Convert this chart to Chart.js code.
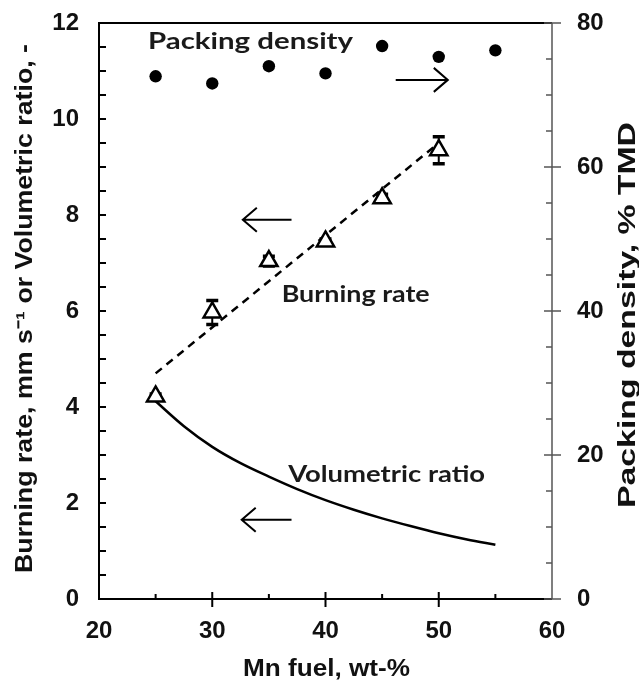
<!DOCTYPE html>
<html>
<head>
<meta charset="utf-8">
<script src="https://cdn.jsdelivr.net/npm/chart.js@4.4.1/dist/chart.umd.min.js"></script>
<style>
  html, body { margin: 0; padding: 0; background: #fff; }
  #wrap { width: 639px; height: 680px; }
</style>
</head>
<body>
<div id="wrap"><canvas id="chart" width="639" height="680"></canvas></div>
<script>
// Data
const packingFuel = [25, 30, 35, 40, 45, 50, 55];
const packingDensity = [72.6, 71.6, 74.0, 73.0, 76.8, 75.3, 76.2];   // % TMD, right axis

const burnFuel = [25, 30, 35, 40, 45, 50];
const burningRate = [4.22, 5.97, 7.04, 7.45, 8.35, 9.35];            // mm/s
const burningErr = [0.05, 0.25, 0.1, 0.05, 0.08, 0.28];

const trendFuel = [25, 50];
const trendRate = [4.7, 9.5];

const ratioFuel = [25, 27.5, 30, 32.5, 35, 37.5, 40, 42.5, 45, 47.5, 50, 52.5, 55];
const volumetricRatio = [4.12, 3.6, 3.17, 2.83, 2.55, 2.29, 2.06, 1.86, 1.68, 1.52, 1.37, 1.24, 1.13];

const xTicks = [20, 30, 40, 50, 60];
const yTicks = [0, 2, 4, 6, 8, 10, 12];
const y2Ticks = [0, 20, 40, 60, 80];

const TITLE_FONT = "bold 23px 'Liberation Sans', Arial, sans-serif";
const NOTE_FONT = "bold 23px Lato, 'Open Sans', sans-serif";

function pts(xs, ys) {
  return xs.map((x, i) => ({ x: x, y: ys[i] }));
}

// text squeezed/stretched to a given width
function fittedText(ctx, text, x, y, font, width, rot, align) {
  ctx.save();
  ctx.translate(x, y);
  ctx.rotate(rot || 0);
  ctx.font = font;
  ctx.textBaseline = 'alphabetic';
  ctx.textAlign = 'left';
  const m = ctx.measureText(text).width;
  ctx.scale(width / m, 1);
  ctx.fillText(text, align === 'center' ? -m / 2 : 0, 0);
  ctx.restore();
}

function arrow(ctx, x1, x2, y, headLeft) {
  ctx.save();
  ctx.strokeStyle = '#000';
  ctx.lineWidth = 2;
  ctx.beginPath();
  ctx.moveTo(x1, y);
  ctx.lineTo(x2, y);
  const hx = headLeft ? x1 : x2;
  const d = headLeft ? 14 : -14;
  ctx.moveTo(hx + d, y - 12);
  ctx.lineTo(hx, y);
  ctx.lineTo(hx + d, y + 12);
  ctx.stroke();
  ctx.restore();
}

const errorBars = {
  id: 'errorBars',
  beforeDatasetsDraw(chart) {
    const ctx = chart.ctx, xs = chart.scales.x, ys = chart.scales.y;
    ctx.save();
    ctx.strokeStyle = '#000';
    burnFuel.forEach((f, i) => {
      const px = xs.getPixelForValue(f);
      const top = ys.getPixelForValue(burningRate[i] + burningErr[i]);
      const bot = ys.getPixelForValue(burningRate[i] - burningErr[i]);
      ctx.lineWidth = 2;
      ctx.beginPath();
      ctx.moveTo(px, top); ctx.lineTo(px, bot);
      ctx.stroke();
      ctx.lineWidth = 3.5;
      ctx.beginPath();
      ctx.moveTo(px - 6, top); ctx.lineTo(px + 6, top);
      ctx.moveTo(px - 6, bot); ctx.lineTo(px + 6, bot);
      ctx.stroke();
    });
    ctx.restore();
  }
};

const frameAndNotes = {
  id: 'frameAndNotes',
  afterDraw(chart) {
    const ctx = chart.ctx, a = chart.chartArea;
    const xs = chart.scales.x, ys = chart.scales.y, y2 = chart.scales.y2;
    ctx.save();

    // frame
    ctx.strokeStyle = '#000';
    ctx.lineWidth = 2;
    ctx.beginPath();
    ctx.moveTo(a.right, a.top); ctx.lineTo(a.left, a.top);
    ctx.lineTo(a.left, a.bottom); ctx.lineTo(a.right, a.bottom);
    ctx.stroke();
    ctx.strokeStyle = '#555';
    ctx.lineWidth = 1.5;
    ctx.beginPath();
    ctx.moveTo(a.right, a.top); ctx.lineTo(a.right, a.bottom);
    ctx.stroke();

    // tick marks (inside, majors crossing on x and right axis)
    ctx.strokeStyle = '#000';
    ctx.lineWidth = 2;
    ctx.beginPath();
    for (let v = 0.5; v < 12; v += 0.5) {
      const py = ys.getPixelForValue(v);
      ctx.moveTo(a.left, py); ctx.lineTo(a.left + 7, py);
    }
    for (let v = 25; v < 60; v += 5) {
      const px = xs.getPixelForValue(v);
      if (v % 10 === 0) { ctx.moveTo(px, a.bottom - 7); ctx.lineTo(px, a.bottom + 8); }
      else { ctx.moveTo(px, a.bottom - 5); ctx.lineTo(px, a.bottom); }
    }
    ctx.stroke();
    ctx.strokeStyle = '#555';
    ctx.lineWidth = 1.5;
    ctx.beginPath();
    for (let v = 0; v <= 80; v += 5) {
      const py = y2.getPixelForValue(v);
      if (v % 20 === 0) { ctx.moveTo(a.right - 8, py); ctx.lineTo(a.right + 9, py); }
      else { ctx.moveTo(a.right - 6, py); ctx.lineTo(a.right, py); }
    }
    ctx.stroke();

    // axis titles
    ctx.fillStyle = '#111';
    fittedText(ctx, 'Burning rate, mm s\u207B\u00B9 or Volumetric ratio, -', 32, 308.5, TITLE_FONT, 529, -Math.PI / 2, 'center');
    fittedText(ctx, 'Packing density, % TMD', 635, 315, TITLE_FONT, 386, -Math.PI / 2, 'center');
    fittedText(ctx, 'Mn fuel, wt-%', 326.5, 676, TITLE_FONT, 167, 0, 'center');

    // series notes and arrows
    ctx.fillStyle = '#1a1a1a';
    fittedText(ctx, 'Packing density', xs.getPixelForValue(24.33), ys.getPixelForValue(11.46), NOTE_FONT, 205);
    fittedText(ctx, 'Burning rate', xs.getPixelForValue(36.13), ys.getPixelForValue(6.19), NOTE_FONT, 148);
    fittedText(ctx, 'Volumetric ratio', xs.getPixelForValue(36.7), ys.getPixelForValue(2.44), NOTE_FONT, 197);

    arrow(ctx, xs.getPixelForValue(46.2), xs.getPixelForValue(50.8), y2.getPixelForValue(72.1), false);
    arrow(ctx, xs.getPixelForValue(32.7), xs.getPixelForValue(37.0), ys.getPixelForValue(7.9), true);
    arrow(ctx, xs.getPixelForValue(32.6), xs.getPixelForValue(37.0), ys.getPixelForValue(1.65), true);

    ctx.restore();
  }
};

const tickFont = { family: "'Liberation Sans', Arial, sans-serif", size: 24, weight: 'bold' };

function fixWidth(w) {
  return s => { s.width = w; s.paddingTop = 0; s.paddingBottom = 0; };
}

new Chart(document.getElementById('chart'), {
  type: 'scatter',
  data: {
    datasets: [
      {
        label: 'Burning rate',
        data: pts(burnFuel, burningRate),
        yAxisID: 'y',
        pointStyle: 'triangle',
        pointRadius: 10,
        pointBackgroundColor: '#fff',
        pointBorderColor: '#000',
        pointBorderWidth: 2.5,
        order: 0
      },
      {
        label: 'Packing density',
        data: pts(packingFuel, packingDensity),
        yAxisID: 'y2',
        pointRadius: 6.2,
        pointBackgroundColor: '#000',
        pointBorderWidth: 0,
        order: 1
      },
      {
        label: 'Trend',
        data: pts(trendFuel, trendRate),
        yAxisID: 'y',
        showLine: true,
        borderColor: '#000',
        borderWidth: 2.5,
        borderDash: [8, 6],
        pointRadius: 0,
        order: 2
      },
      {
        label: 'Volumetric ratio',
        data: pts(ratioFuel, volumetricRatio),
        yAxisID: 'y',
        showLine: true,
        borderColor: '#000',
        borderWidth: 2.5,
        cubicInterpolationMode: 'monotone',
        pointRadius: 0,
        order: 3
      }
    ]
  },
  options: {
    responsive: false,
    animation: false,
    devicePixelRatio: 1,
    layout: { padding: { top: 23, left: 0, right: 0, bottom: 0 } },
    plugins: { legend: { display: false }, tooltip: { enabled: false } },
    scales: {
      x: {
        type: 'linear', min: 20, max: 60,
        afterBuildTicks: s => { s.ticks = xTicks.map(v => ({ value: v })); },
        afterFit: s => { s.height = 81; s.paddingLeft = 0; s.paddingRight = 0; },
        grid: { display: false, drawTicks: false },
        border: { display: false },
        ticks: { font: tickFont, color: '#111', padding: 18 }
      },
      y: {
        type: 'linear', position: 'left', min: 0, max: 12,
        afterBuildTicks: s => { s.ticks = yTicks.map(v => ({ value: v })); },
        afterFit: fixWidth(99),
        grid: { display: false, drawTicks: false },
        border: { display: false },
        ticks: { font: tickFont, color: '#111', padding: 20 }
      },
      y2: {
        type: 'linear', position: 'right', min: 0, max: 80,
        afterBuildTicks: s => { s.ticks = y2Ticks.map(v => ({ value: v })); },
        afterFit: fixWidth(87),
        grid: { display: false, drawTicks: false },
        border: { display: false },
        ticks: { font: tickFont, color: '#111', padding: 25 }
      }
    }
  },
  plugins: [errorBars, frameAndNotes]
});
</script>
</body>
</html>
